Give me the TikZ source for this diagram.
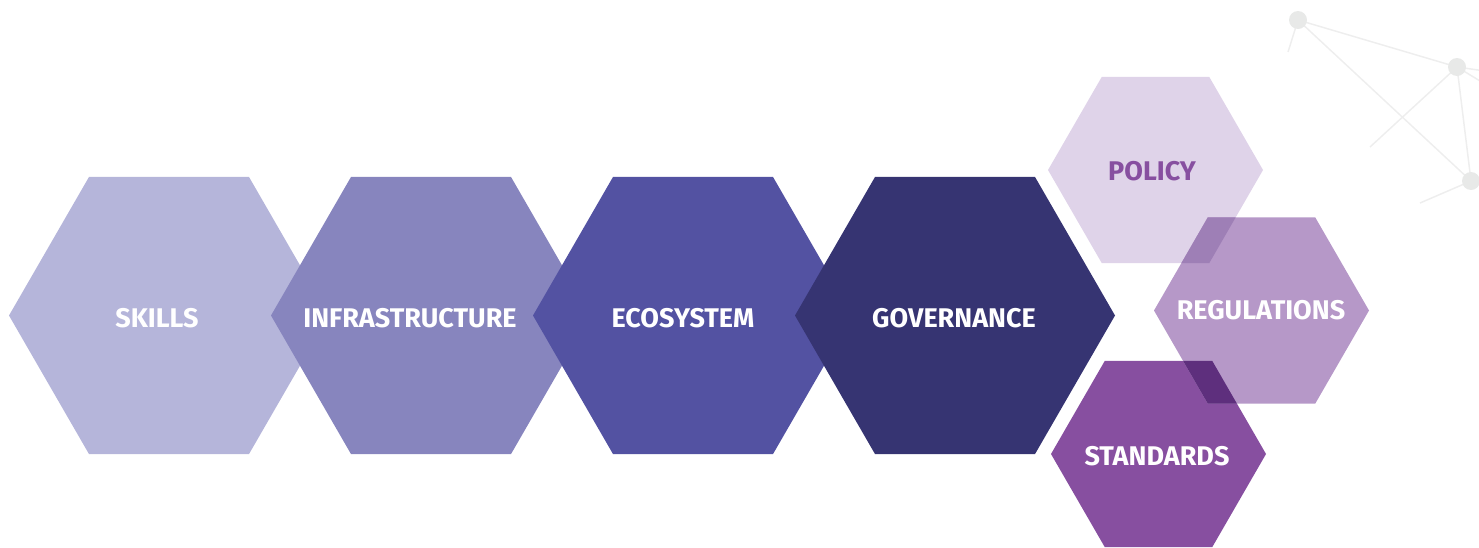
\documentclass[tikz,border=0pt]{standalone}
\usepackage{fontspec}
\setmainfont{Fira Sans}
\usetikzlibrary{backgrounds}
\definecolor{cSkills}{HTML}{B5B5DA}
\definecolor{cInfra}{HTML}{8785BE}
\definecolor{cEco}{HTML}{5352A2}
\definecolor{cGov}{HTML}{363472}
\definecolor{cPolicy}{HTML}{DFD3E9}
\definecolor{cReg}{HTML}{B698C8}
\definecolor{cStd}{HTML}{874FA0}
\definecolor{cRegPol}{HTML}{9E7FB6}
\definecolor{cRegStd}{HTML}{5E2F7D}
\definecolor{cNetDot}{HTML}{E8E9E8}
\definecolor{cNetLine}{HTML}{EEEEEE}
\newcommand\hexpath[3]{(#1-#3,#2) -- (#1-#3/2,#2-0.866*#3) -- (#1+#3/2,#2-0.866*#3) -- (#1+#3,#2) -- (#1+#3/2,#2+0.866*#3) -- (#1-#3/2,#2+0.866*#3) -- cycle}
\tikzset{
  lbl/.style={font=\bfseries\fontsize{27}{30}\selectfont, text=white, inner sep=0pt},
  netdot/.style={circle, fill=cNetDot, minimum size=18pt, inner sep=0pt},
  netline/.style={draw=cNetLine, line width=1.5pt},
}
\begin{document}
\begin{tikzpicture}[x=1pt,y=-1pt]
\useasboundingbox (0,0) rectangle (1479,547);
\clip (0,0) rectangle (1479,547);
% main hexagons
\fill[cSkills] \hexpath{169}{315.5}{160};
\fill[cInfra]  \hexpath{431}{315.5}{160};
\fill[cEco]    \hexpath{693}{315.5}{160};
\fill[cGov]    \hexpath{955}{315.5}{160};
% small hexagons
\fill[cPolicy] \hexpath{1155.5}{170}{107.5};
\fill[cStd]    \hexpath{1158.5}{454}{107.5};
\fill[cReg]    \hexpath{1261.5}{310.5}{107.5};
\begin{scope}
\clip \hexpath{1155.5}{170}{107.5};
\fill[cRegPol] \hexpath{1261.5}{310.5}{107.5};
\end{scope}
\begin{scope}
\clip \hexpath{1158.5}{454}{107.5};
\fill[cRegStd] \hexpath{1261.5}{310.5}{107.5};
\end{scope}
% network decoration
\node[netdot] (nA) at (1298,20) {};
\node[netdot] (nB) at (1457,67) {};
\node[netdot] (nC) at (1471,181) {};
\coordinate (eA) at (1288,52);
\coordinate (eB) at (1370,147);
\coordinate (eC) at (1420,203);
\coordinate (eR1) at (1485,71);
\coordinate (eR2) at (1485,84);
\begin{pgfonlayer}{background}
\draw[netline] (nA.center) -- (nB.center);
\draw[netline] (nA.center) -- (nC.center);
\draw[netline] (nB.center) -- (nC.center);
\draw[netline] (nB.center) -- (eB);
\draw[netline] (nA.center) -- (eA);
\draw[netline] (nC.center) -- (eC);
\draw[netline] (nB.center) -- (eR1);
\draw[netline] (nB.center) -- (eR2);
\end{pgfonlayer}
% labels
\node[lbl] (skills) at (157,318.5) {SKILLS};
\node[lbl] (infra)  at (410,318.5) {INFRASTRUCTURE};
\node[lbl] (eco)    at (683,318.5) {ECOSYSTEM};
\node[lbl] (gov)    at (954,318.5) {GOVERNANCE};
\node[lbl, text=cStd] (policy) at (1152,171) {POLICY};
\node[lbl] (reg) at (1261,310.5) {REGULATIONS};
\node[lbl] (std) at (1157,456.5) {STANDARDS};
\end{tikzpicture}
\end{document}
